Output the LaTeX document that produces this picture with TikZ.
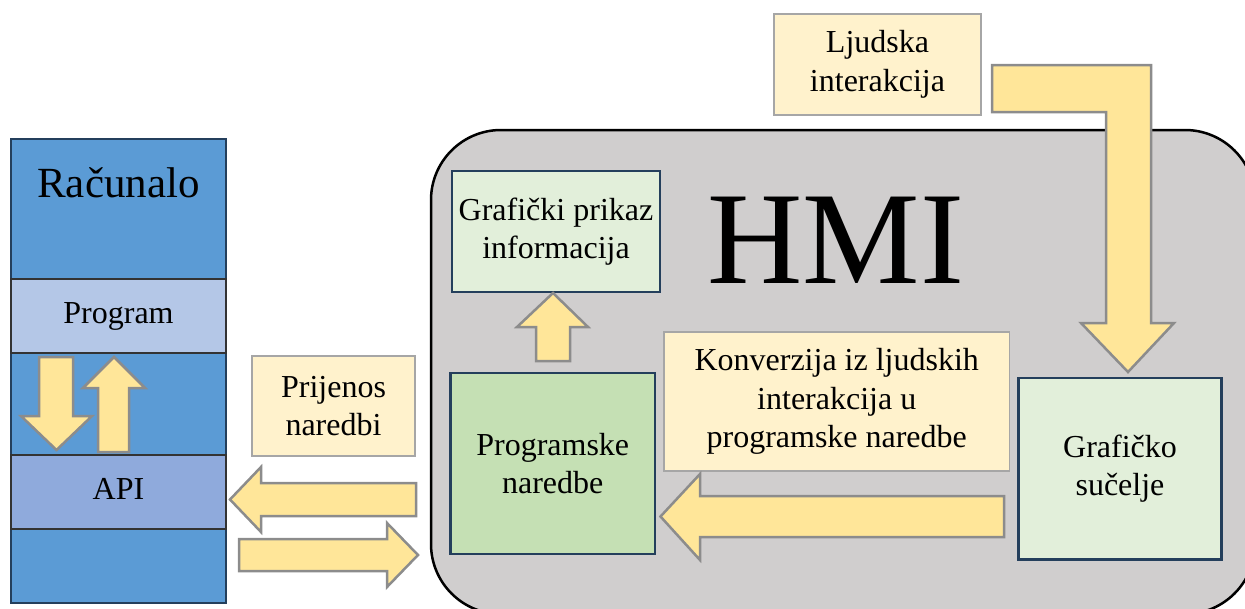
\documentclass[tikz,border=0pt]{standalone}
\usepackage{fontspec}
\setmainfont{Liberation Serif}
\definecolor{compblue}{HTML}{5B9BD5}
\definecolor{progblue}{HTML}{B4C7E7}
\definecolor{apiblue}{HTML}{8FAADC}
\definecolor{darkborder}{HTML}{243F5C}
\definecolor{lightgreen}{HTML}{E2EFDA}
\definecolor{midgreen}{HTML}{C5E0B4}
\definecolor{cream}{HTML}{FFF2CC}
\definecolor{creamborder}{HTML}{A6A6A6}
\definecolor{arrowfill}{HTML}{FFE699}
\definecolor{arrowborder}{HTML}{8C8C8C}
\definecolor{hmigray}{HTML}{D0CECE}
\begin{document}
\begin{tikzpicture}[x=1pt,y=-1pt,
  txt/.style={font=\fontsize{32}{38.5}\selectfont, align=center, text=black},
  darkbox/.style={draw=darkborder, line width=2.5pt, inner sep=0pt, txt},
  band/.style={draw=black!80, line width=1.5pt, inner sep=0pt, minimum width=215pt, minimum height=74pt, txt},
  creambox/.style={draw=creamborder, fill=cream, line width=1.5pt, inner sep=0pt, txt},
  blockarrow/.style={draw=arrowborder, fill=arrowfill, line width=2.5pt, line join=miter}]
\useasboundingbox (0,0) rectangle (1245,608);
\clip (0,0) rectangle (1245,608);

% HMI background
\node[draw=black, fill=hmigray, line width=2.5pt, rounded corners=70pt,
      minimum width=824pt, minimum height=484pt, inner sep=0pt] (hmi) at (843,372) {};
\node[font=\fontsize{132}{140}\selectfont, anchor=base, inner sep=0pt] (hmitxt) at (836,283) {HMI};

% Computer column
\node[draw=darkborder, fill=compblue, line width=2.5pt, minimum width=215pt,
      minimum height=464pt, inner sep=0pt] (comp) at (118.5,371) {};
\node[font=\fontsize{43}{50}\selectfont, anchor=base, inner sep=0pt] (comptxt) at (118.5,197) {Računalo};
\node[band, fill=progblue] (prog) at (118.5,316) {\strut Program};
\node[band, fill=apiblue] (api) at (118.5,492) {\strut API};

% arrows between Program and API
\draw[blockarrow] (39,357) -- (73,357) -- (73,416) -- (92,416) -- (56.5,450) -- (21,416) -- (39,416) -- cycle;
\draw[blockarrow] (98,452) -- (129,452) -- (129,388) -- (145,388) -- (114,357) -- (83,388) -- (98,388) -- cycle;

% Prijenos naredbi
\node[creambox, minimum width=163pt, minimum height=100pt] (prijenos) at (333.5,406) {Prijenos\\naredbi};
\draw[blockarrow] (416,483) -- (261,483) -- (261,467) -- (230,499.5) -- (261,532) -- (261,516) -- (416,516) -- cycle;
\draw[blockarrow] (239,539) -- (387,539) -- (387,523) -- (418,555) -- (387,587) -- (387,571) -- (239,571) -- cycle;

% HMI inner boxes
\node[darkbox, fill=lightgreen, minimum width=208pt, minimum height=121pt] (prikaz) at (556,231.5) {Grafički prikaz\\informacija};
\draw[blockarrow] (536,361) -- (570,361) -- (570,327) -- (588,327) -- (553,293) -- (517,327) -- (536,327) -- cycle;
\node[darkbox, fill=midgreen, minimum width=204.5pt, minimum height=181pt] (naredbe) at (552.75,463.5) {Programske\\naredbe};
\node[creambox, minimum width=345.5pt, minimum height=139pt] (konv) at (836.75,401.5) {Konverzija iz ljudskih\\interakcija u\\programske naredbe};
\draw[blockarrow] (1004,496) -- (700,496) -- (700,474) -- (660.5,516.5) -- (700,560) -- (700,537) -- (1004,537) -- cycle;
\node[darkbox, fill=lightgreen, minimum width=203pt, minimum height=181.5pt] (sucelje) at (1120,468.75) {Grafičko\\sučelje};

% Ljudska interakcija
\node[creambox, minimum width=207pt, minimum height=101pt] (ljudska) at (877.5,64.5) {Ljudska\\interakcija};
\draw[blockarrow] (992,65) -- (1151,65) -- (1151,323) -- (1174,323) -- (1128,372) -- (1081,323) -- (1106,323) -- (1106,112) -- (992,112) -- cycle;
\end{tikzpicture}
\end{document}
